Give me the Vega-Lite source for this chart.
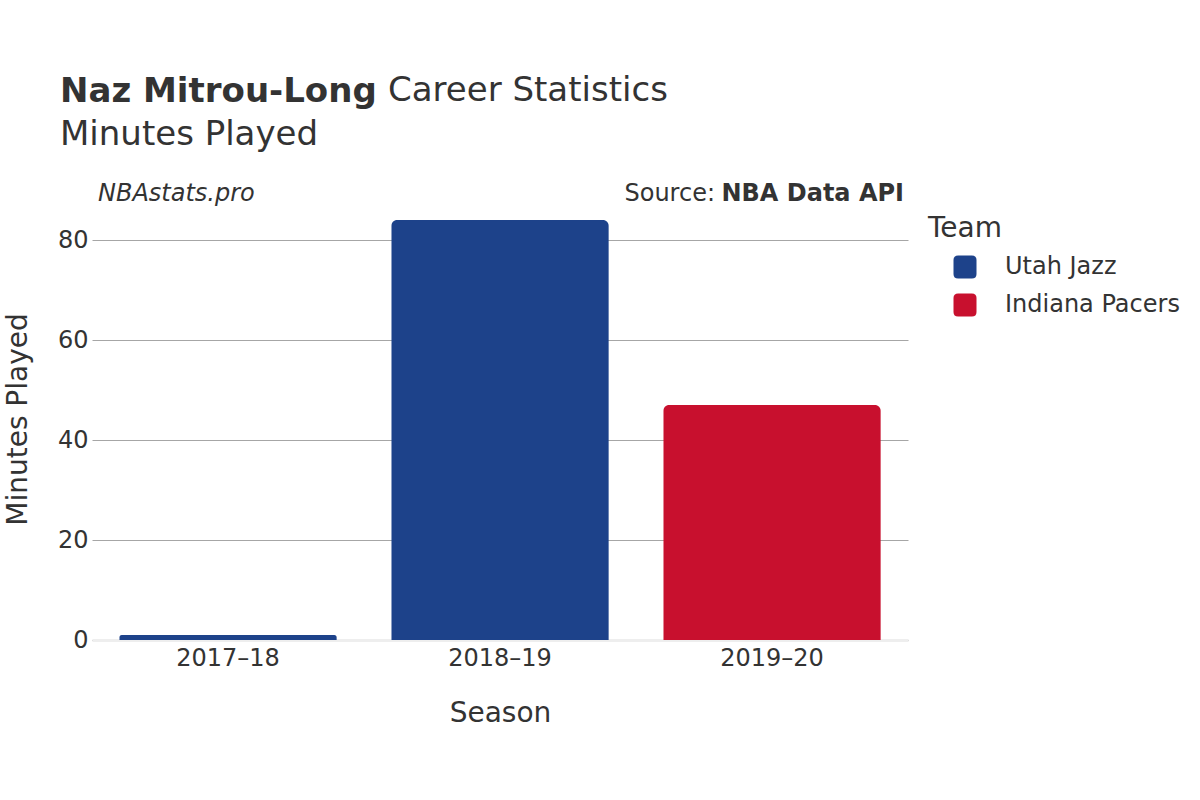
{
  "$schema": "https://vega.github.io/schema/vega-lite/v6.json",
  "width": 816,
  "height": 442,
  "autosize": {"type": "none"},
  "padding": {"left": 92, "top": 198, "right": 292, "bottom": 160},
  "background": "white",
  "config": {
    "font": "DejaVu Sans",
    "view": {"stroke": null},
    "text": {"font": "DejaVu Sans", "color": "#333333"}
  },
  "title": {
    "text": "Naz Mitrou-Long",
    "subtitle": "Minutes Played",
    "anchor": "start",
    "frame": "group",
    "dx": -32,
    "offset": -78,
    "font": "DejaVu Sans",
    "fontSize": 34,
    "fontWeight": "bold",
    "color": "#333333",
    "subtitleFont": "DejaVu Sans",
    "subtitleFontSize": 34,
    "subtitleColor": "#333333",
    "subtitlePadding": 9
  },
  "data": {
    "values": [
      {"Season": "2017–18", "Team": "Utah Jazz", "Minutes": 1},
      {"Season": "2018–19", "Team": "Utah Jazz", "Minutes": 84},
      {"Season": "2019–20", "Team": "Indiana Pacers", "Minutes": 47}
    ]
  },
  "layer": [
    {
      "mark": {"type": "bar", "cornerRadiusTopLeft": 6, "cornerRadiusTopRight": 6},
      "encoding": {
        "x": {
          "field": "Season",
          "type": "nominal",
          "sort": ["2017–18", "2018–19", "2019–20"],
          "scale": {"paddingInner": 0.2, "paddingOuter": 0.1},
          "axis": {
            "title": "Season",
            "labelAngle": 0,
            "labelFontSize": 24,
            "labelColor": "#333333",
            "labelPadding": 6,
            "ticks": false,
            "domainColor": "#eeeeee",
            "domainWidth": 3,
            "titleFontSize": 28,
            "titleFontWeight": "normal",
            "titleColor": "#333333",
            "titlePadding": 29
          }
        },
        "y": {
          "field": "Minutes",
          "type": "quantitative",
          "scale": {"domain": [0, 88.4], "nice": false},
          "axis": {
            "title": "Minutes Played",
            "values": [0, 20, 40, 60, 80],
            "labelFontSize": 24,
            "labelColor": "#333333",
            "labelPadding": 4,
            "ticks": false,
            "domain": false,
            "gridColor": "#a6a6a6",
            "gridWidth": 1,
            "titleFontSize": 28,
            "titleFontWeight": "normal",
            "titleColor": "#333333",
            "titlePadding": 25
          }
        },
        "color": {
          "field": "Team",
          "type": "nominal",
          "scale": {"domain": ["Utah Jazz", "Indiana Pacers"], "range": ["#1D428A", "#C8102E"]},
          "legend": {
            "title": "Team",
            "orient": "none",
            "legendX": 836,
            "legendY": 17,
            "titleFontSize": 28,
            "titleFontWeight": "normal",
            "titleColor": "#333333",
            "titlePadding": 12,
            "labelFontSize": 24,
            "labelColor": "#333333",
            "labelOffset": 28,
            "labelLimit": 300,
            "symbolType": "M-1,-0.6Q-1,-1,-0.6,-1L0.6,-1Q1,-1,1,-0.6L1,0.6Q1,1,0.6,1L-0.6,1Q-1,1,-1,0.6Z",
            "symbolSize": 529,
            "symbolOffset": 25,
            "symbolStrokeWidth": 0,
            "symbolOpacity": 1,
            "rowPadding": 14
          }
        }
      }
    },
    {
      "data": {"values": [{"t": "Career Statistics"}]},
      "mark": {"type": "text", "x": 296, "y": -97, "align": "left", "baseline": "alphabetic", "fontSize": 34, "color": "#333333"},
      "encoding": {"text": {"field": "t"}}
    },
    {
      "data": {"values": [{"t": "NBAstats.pro"}]},
      "mark": {"type": "text", "x": 6, "y": 3, "align": "left", "baseline": "alphabetic", "fontSize": 24, "fontStyle": "italic", "color": "#333333"},
      "encoding": {"text": {"field": "t"}}
    },
    {
      "data": {"values": [{"t": "NBA Data API"}]},
      "mark": {"type": "text", "x": 812, "y": 3, "align": "right", "baseline": "alphabetic", "fontSize": 24, "fontWeight": "bold", "color": "#333333"},
      "encoding": {"text": {"field": "t"}}
    },
    {
      "data": {"values": [{"t": "Source:"}]},
      "mark": {"type": "text", "x": 623, "y": 3, "align": "right", "baseline": "alphabetic", "fontSize": 24, "color": "#333333"},
      "encoding": {"text": {"field": "t"}}
    }
  ]
}
